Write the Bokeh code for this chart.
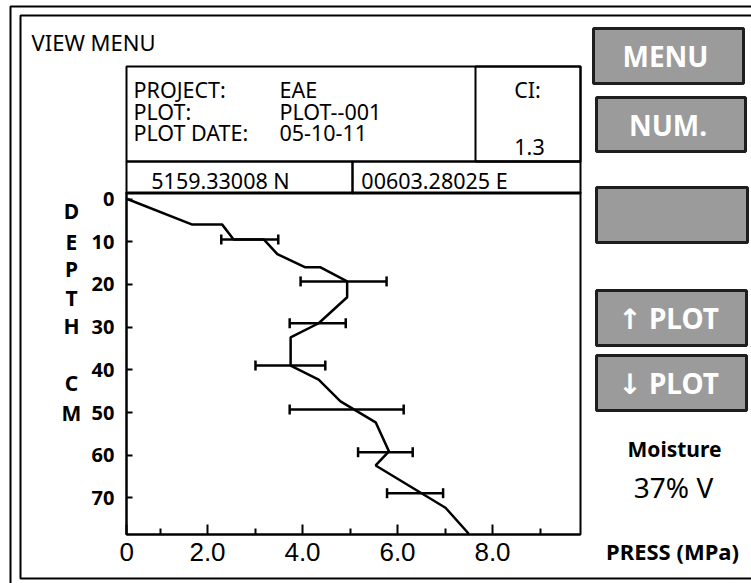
from bokeh.plotting import figure
from bokeh.models import (Range1d, FixedTicker, Label, Whisker, TeeHead, ColumnDataSource)
from bokeh.embed import file_html
from bokeh.resources import INLINE

# ---------------- data ----------------
depth_cm = [0, 6, 6, 9.5, 9.5, 12.9, 16, 16, 19.3, 23.0, 29.1, 32.4, 39.0,
            42.3, 47.4, 52.3, 59.1, 62.4, 72.3, 78.4]
press_mpa = [0.31, 1.68, 2.31, 2.55, 3.19, 3.47, 4.06, 4.38, 4.94, 4.94, 4.34,
             3.75, 3.75, 4.34, 4.80, 5.54, 5.82, 5.54, 7.01, 7.50]
err_depth = [9.5, 19.3, 29.1, 39.0, 49.3, 59.3, 68.9]
err_low = [2.29, 3.96, 3.73, 3.01, 3.73, 5.17, 5.78]
err_high = [3.49, 5.77, 4.91, 4.48, 6.13, 6.32, 6.96]

x_ticks = [0.3, 2, 4, 6, 8]
x_tick_labels = ["0", "2.0", "4.0", "6.0", "8.0"]
x_minor_ticks = [1, 3, 5, 7, 9]
y_ticks = [0, 10, 20, 30, 40, 50, 60, 70]

header_labels = ["PROJECT:", "PLOT:", "PLOT DATE:"]
header_values = ["EAE", "PLOT--001", "05-10-11"]
ci_label, ci_value = "CI:", "1.3"
lat_text, lon_text = "5159.33008 N", "00603.28025 E"
buttons = ["MENU", "NUM.", "", "\u2191 PLOT", "\u2193 PLOT"]
depth_letters = ["D", "E", "P", "T", "H", "C", "M"]
moisture_title, moisture_value = "Moisture", "37% V"
x_title = "PRESS (MPa)"
menu_title = "VIEW MENU"

# ---------------- layout (canvas pixels) ----------------
W, H = 751, 583
PL, PR, PT, PB = 126, 580, 192, 534          # plot box
X0PX, XPX = 112.0, 47.5                      # pixel of 0 MPa, pixels per MPa
Y0PX, YPX = 198.5, 4.27                      # pixel of 0 cm, pixels per cm
SANS = "Noto Sans"


def px2x(px):
    return (px - X0PX) / XPX


def px2y(py):
    return (py - Y0PX) / YPX


p = figure(width=W, height=H, output_backend="svg", toolbar_location=None,
           x_range=Range1d(px2x(0), px2x(W)), y_range=Range1d(px2y(H), px2y(0)),
           min_border=0, min_border_left=0, min_border_right=0,
           min_border_top=0, min_border_bottom=0, title=None)
p.extra_x_ranges = {"cx": Range1d(0, W)}
p.extra_y_ranges = {"cy": Range1d(H, 0)}
p.grid.visible = False
p.background_fill_color = "white"
p.border_fill_color = "white"
p.outline_line_color = None

# axes, drawn at the edges of the plot box
xa, ya = p.xaxis[0], p.yaxis[0]
xa.fixed_location = px2y(PB)
xa.bounds = (px2x(PL), px2x(PR))
ya.fixed_location = px2x(PL)
ya.bounds = (px2y(PT), px2y(PB))
xa.ticker = FixedTicker(ticks=x_ticks, minor_ticks=x_minor_ticks)
xa.major_label_overrides = dict(zip(x_ticks, x_tick_labels))
ya.ticker = FixedTicker(ticks=y_ticks, minor_ticks=[])
for ax in (xa, ya):
    ax.axis_line_color = "black"
    ax.axis_line_width = 2
    ax.major_tick_out = 0
    ax.minor_tick_out = 0
    ax.major_tick_line_color = "black"
    ax.major_tick_line_width = 2
    ax.minor_tick_line_color = "black"
    ax.minor_tick_line_width = 2
    ax.major_label_text_color = "black"
xa.major_tick_in = 10
xa.minor_tick_in = 6
xa.major_label_text_font = "Liberation Sans"
xa.major_label_text_font_size = "26px"
xa.major_label_standoff = 8
ya.major_tick_in = 6
ya.minor_tick_in = 0
ya.major_label_text_font = SANS
ya.major_label_text_font_style = "bold"
ya.major_label_text_font_size = "20px"
ya.major_label_standoff = 12


def box(l, t, r, b, fill=None, lw=2, lc="black"):
    p.quad(left=[l], right=[r], top=[t], bottom=[b],
           x_range_name="cx", y_range_name="cy",
           fill_color=fill if fill else "white", fill_alpha=1 if fill else 0,
           line_color=lc, line_width=lw)


def label(x, y, text, size, align="left", style="normal", color="black", font=SANS):
    p.add_layout(Label(x=x, y=y, text=text, x_range_name="cx", y_range_name="cy",
                       text_font=font, text_font_size=size, text_align=align,
                       text_baseline="middle", text_font_style=style,
                       text_color=color))


# double frame
box(10, 6, 800, 800)
box(20, 15, 800, 578)

label(31, 41, menu_title, "22px")

# header table and plot box
box(126, 66, 580, 161)
box(475, 66, 580, 161)
box(126, 161, 352, 193)
box(352, 161, 580, 193)
box(PL, PT, PR, PB)
for ty, lab, val in zip([89, 111, 132], header_labels, header_values):
    label(133, ty, lab, "21.5px")
    label(279, ty, val, "21.5px")
label(527, 89, ci_label, "21.5px", align="center")
label(529, 146, ci_value, "21.5px", align="center")
label(220, 180, lat_text, "21.5px", align="center")
label(434, 180, lon_text, "21.5px", align="center")

# buttons
btn_boxes = [(593, 28, 743, 83), (596, 97, 745, 151), (596, 187, 747, 242),
             (596, 290, 746, 345), (596, 355, 746, 410)]
for (l, t, r, b), txt in zip(btn_boxes, buttons):
    box(l, t, r, b, fill="#9b9b9b", lw=3, lc="#1e1e1e")
    if txt:
        label((l + r) / 2 - 3, (t + b) / 2, txt, "28px", align="center",
              style="bold", color="white", font="Noto Sans, DejaVu Sans")

label(674, 448, moisture_title, "21px", align="center", style="bold")
label(673, 486, moisture_value, "28px", align="center")
label(672, 550, x_title, "22px", align="center", style="bold")

for ly, ch in zip([210, 241, 268, 297, 325, 382, 412], depth_letters):
    label(71, ly, ch, "21px", align="center", style="bold")

# data
src = ColumnDataSource(dict(depth=err_depth, lo=err_low, hi=err_high))
p.add_layout(Whisker(source=src, base="depth", lower="lo", upper="hi",
                     dimension="width", line_color="black", line_width=2.5,
                     lower_head=TeeHead(size=10, line_color="black", line_width=2.5),
                     upper_head=TeeHead(size=10, line_color="black", line_width=2.5),
                     level="glyph"))
p.line(x=press_mpa, y=depth_cm, line_color="black", line_width=2.5)

open("out.html", "w").write(file_html(p, INLINE))
